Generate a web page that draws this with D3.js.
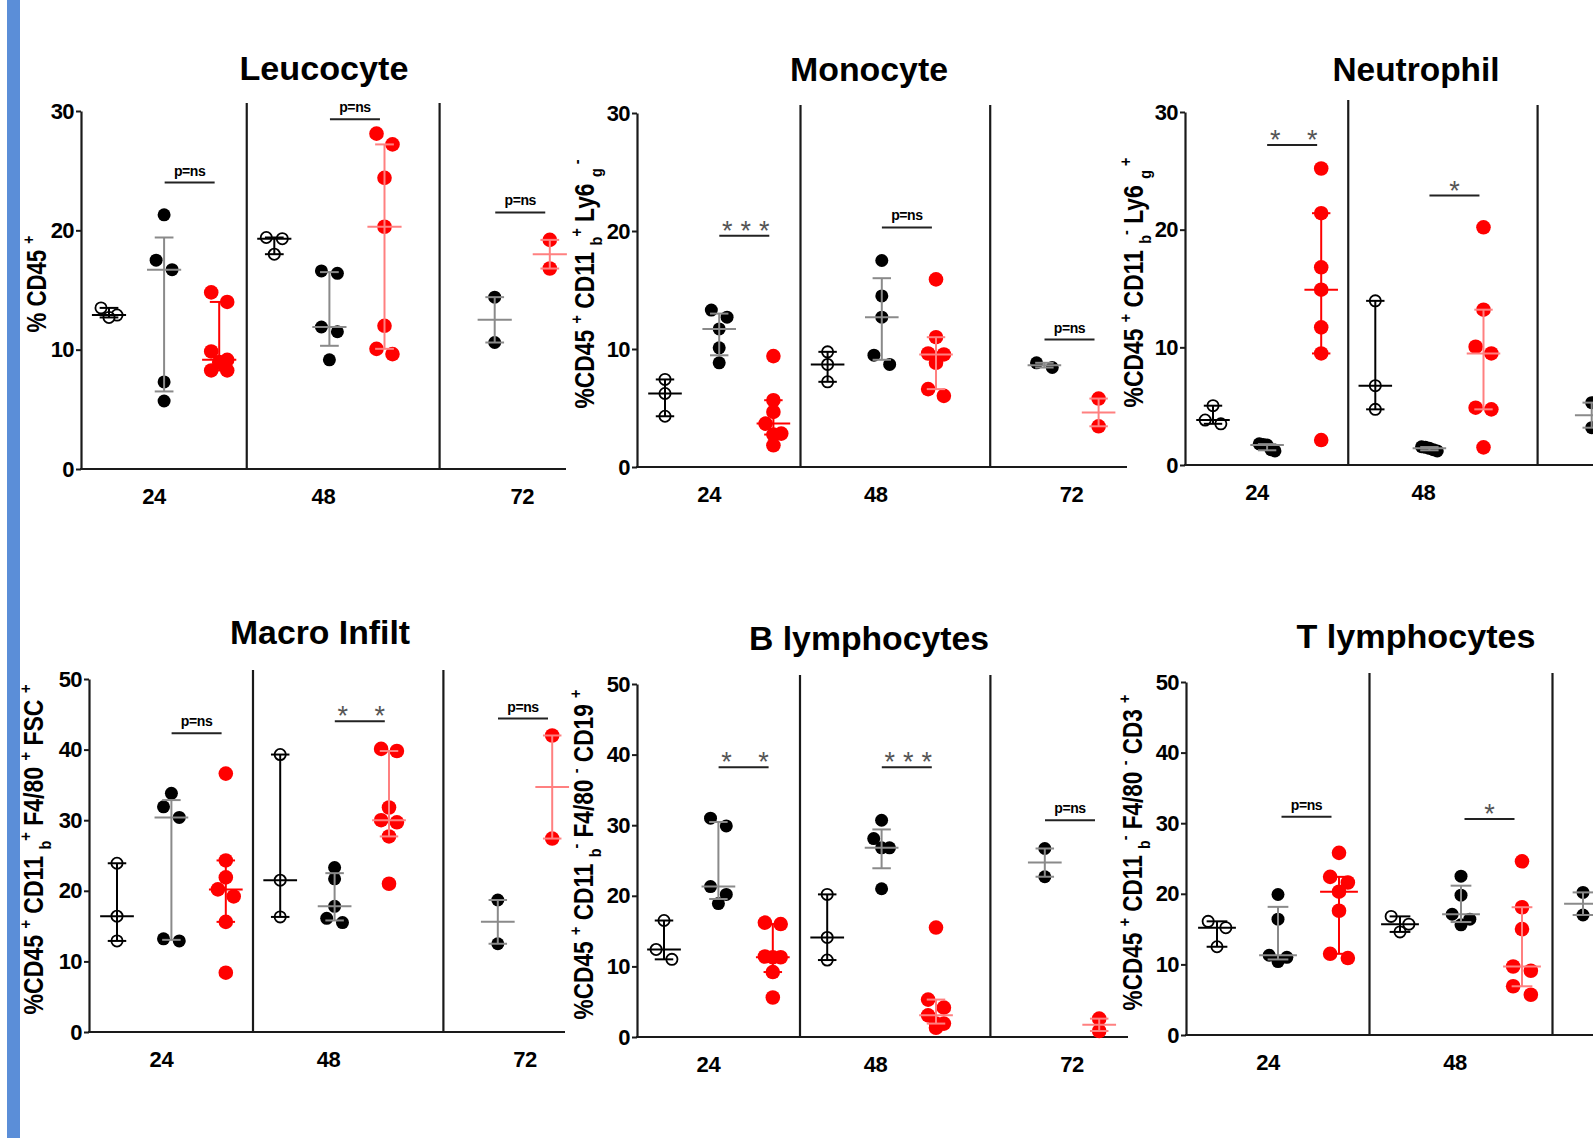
<!DOCTYPE html>
<html lang="en">
<head>
<meta charset="UTF-8" />
<title>Leucocyte subsets</title>
<script src="https://cdn.jsdelivr.net/npm/d3@7"></script>
<style>
  body { margin: 0; background: #fff; }
  text { font-family: "Liberation Sans", Arial, sans-serif; }
</style>
</head>
<body>
<svg id="container" width="1593" height="1138"></svg>
<script>
// hours after injury and the three groups drawn in each time block
const times = ["24", "48", "72"];
const groupsAtTime = [[0, 1, 2], [0, 1, 2], [1, 2]];

// [time index, group index (0 open, 1 black, 2 red), values]
const leucocyteData = [
  [0, 0, [13.5, 12.9, 12.7]],
  [0, 1, [21.3, 17.5, 16.7, 7.3, 5.7]],
  [0, 2, [14.8, 14.0, 9.85, 9.15, 8.96, 8.26, 8.26]],
  [1, 0, [19.4, 19.3, 18.0]],
  [1, 1, [16.6, 16.4, 11.9, 11.5, 9.15]],
  [1, 2, [28.1, 27.2, 24.4, 20.3, 12.0, 10.07, 9.63]],
  [2, 1, [14.4, 10.6]],
  [2, 2, [19.2, 16.8]]
];
const monocyteData = [
  [0, 0, [7.42, 6.23, 4.3]],
  [0, 1, [13.3, 12.7, 11.7, 10.1, 8.83]],
  [0, 2, [9.4, 5.66, 4.67, 3.68, 2.83, 2.75, 1.84]],
  [1, 0, [9.76, 8.69, 7.22]],
  [1, 1, [17.5, 14.5, 12.7, 9.48, 8.69]],
  [1, 2, [15.9, 11.0, 9.62, 9.54, 8.83, 6.6, 6.03]],
  [2, 1, [8.83, 8.43]],
  [2, 2, [5.8, 3.45]]
];
const neutrophilData = [
  [0, 0, [5.04, 3.82, 3.5]],
  [0, 1, [1.8, 1.75, 1.7, 1.3, 1.2]],
  [0, 2, [25.2, 21.4, 16.8, 14.9, 11.7, 9.48, 2.12]],
  [1, 0, [13.95, 6.74, 4.73]],
  [1, 1, [1.55, 1.5, 1.42, 1.3, 1.2]],
  [1, 2, [20.2, 13.2, 10.05, 9.48, 4.87, 4.73, 1.5]],
  [2, 1, [5.3, 3.17]]
];
const macroData = [
  [0, 0, [23.9, 16.4, 12.9]],
  [0, 1, [33.8, 31.9, 30.4, 13.2, 12.9]],
  [0, 2, [36.6, 24.3, 21.9, 20.2, 19.2, 15.6, 8.4]],
  [1, 0, [39.3, 21.5, 16.3]],
  [1, 1, [23.3, 21.7, 17.8, 16.1, 15.5]],
  [1, 2, [40.1, 39.8, 31.8, 30.0, 29.7, 27.7, 21.0]],
  [2, 1, [18.7, 12.5]],
  [2, 2, [42.0, 27.4]]
];
const bLymphData = [
  [0, 0, [16.5, 12.4, 11.0]],
  [0, 1, [31.0, 29.9, 21.3, 20.2, 18.9]],
  [0, 2, [16.2, 16.0, 11.4, 11.3, 11.3, 9.2, 5.6]],
  [1, 0, [20.2, 14.1, 10.9]],
  [1, 1, [30.7, 28.1, 26.8, 26.8, 21.0]],
  [1, 2, [15.5, 5.3, 4.16, 3.07, 1.9, 1.9, 1.3]],
  [2, 1, [26.7, 22.7]],
  [2, 2, [2.6, 0.85]]
];
const tLymphData = [
  [0, 0, [16.1, 15.2, 12.5]],
  [0, 1, [19.9, 16.4, 11.3, 11.0, 10.4]],
  [0, 2, [25.8, 22.4, 21.6, 20.3, 17.6, 11.5, 10.9]],
  [1, 0, [16.8, 15.7, 14.6]],
  [1, 1, [22.5, 19.8, 17.1, 16.4, 15.6]],
  [1, 2, [24.6, 18.1, 15.0, 9.7, 9.1, 6.9, 5.7]],
  [2, 1, [20.2, 17.0]]
];

// significance bars: [time index, label, bar height in axis units]
const leucocyteSig = [[0, "p=ns", 24.0], [1, "p=ns", 29.3], [2, "p=ns", 21.5]];
const monocyteSig = [[0, "***", 19.6], [1, "p=ns", 20.3], [2, "p=ns", 10.8]];
const neutrophilSig = [[0, "**", 27.2], [1, "*", 22.9]];
const macroSig = [[0, "p=ns", 42.3], [1, "**", 44.0], [2, "p=ns", 44.4]];
const bLymphSig = [[0, "**", 38.2], [1, "***", 38.2], [2, "p=ns", 30.7]];
const tLymphSig = [[0, "p=ns", 30.9], [1, "*", 30.6]];

// y axis titles: [text, "" | "sup" | "sub"]
const leucocyteLabel = [["% CD45 ", ""], ["+", "sup"]];
const monocyteLabel = [["%CD45 ", ""], ["+", "sup"], [" CD11 ", ""], ["b", "sub"], ["+", "sup"], [" Ly6 ", ""], ["g", "sub"], [" -", "sup"]];
const neutrophilLabel = [["%CD45 ", ""], ["+", "sup"], [" CD11 ", ""], ["b", "sub"], ["-", "sup"], [" Ly6 ", ""], ["g", "sub"], [" +", "sup"]];
const macroLabel = [["%CD45 ", ""], ["+", "sup"], [" CD11 ", ""], ["b", "sub"], ["+", "sup"], [" F4/80 ", ""], ["+", "sup"], [" FSC ", ""], ["+", "sup"]];
const bLymphLabel = [["%CD45 ", ""], ["+", "sup"], [" CD11 ", ""], ["b", "sub"], ["-", "sup"], [" F4/80 ", ""], ["-", "sup"], [" CD19 ", ""], ["+", "sup"]];
const tLymphLabel = [["%CD45 ", ""], ["+", "sup"], [" CD11 ", ""], ["b", "sub"], ["-", "sup"], [" F4/80 ", ""], ["-", "sup"], [" CD3 ", ""], ["+", "sup"]];

const titles = ["Leucocyte", "Monocyte", "Neutrophil", "Macro Infilt", "B lymphocytes", "T lymphocytes"];

// page layout of each panel (pixels)
const layouts = [
  { axisX: 81, xEnd: 566, y0: 469, yTop: 111, yMax: 30, slot0: 109, unit: 55.1, divTop: [103, 103], titleX: 324, titleY: 80, titleLen: 169, labelX: 46, labelLen: 97, shift72: 0 },
  { axisX: 637, xEnd: 1127, y0: 467, yTop: 113, yMax: 30, slot0: 665, unit: 54.2, divTop: [105, 105], titleX: 869, titleY: 81, titleLen: 158, labelX: 594, labelLen: 249, shift72: 0 },
  { axisX: 1185, xEnd: 1600, y0: 465, yTop: 112, yMax: 30, slot0: 1213, unit: 54.1, divTop: [100, 105], titleX: 1416, titleY: 81, titleLen: 167, labelX: 1143, labelLen: 250, shift72: 0 },
  { axisX: 89, xEnd: 565, y0: 1032, yTop: 679, yMax: 50, slot0: 117, unit: 54.4, divTop: [670, 670], titleX: 320, titleY: 644, titleLen: 180, labelX: 43, labelLen: 330, shift72: 0 },
  { axisX: 637, xEnd: 1128, y0: 1037, yTop: 684, yMax: 50, slot0: 664, unit: 54.4, divTop: [675, 675], titleX: 869, titleY: 650, titleLen: 240, labelX: 593, labelLen: 330, shift72: 0 },
  { axisX: 1186, xEnd: 1600, y0: 1035, yTop: 682, yMax: 50, slot0: 1217, unit: 61, divTop: [673, 673], titleX: 1416, titleY: 648, titleLen: 239, labelX: 1142, labelLen: 316, shift72: -1 }
];

const panelData = [leucocyteData, monocyteData, neutrophilData, macroData, bLymphData, tLymphData];
const panelSig = [leucocyteSig, monocyteSig, neutrophilSig, macroSig, bLymphSig, tLymphSig];
const panelLabel = [leucocyteLabel, monocyteLabel, neutrophilLabel, macroLabel, bLymphLabel, tLymphLabel];

const W = 1593, H = 1138;
const labelNudge = [-10, -6, 0];

const svg = d3.select("#container");
svg.append("rect").attr("width", W).attr("height", H).attr("fill", "#fff");
svg.append("rect").attr("x", 7).attr("y", 0).attr("width", 13).attr("height", H).attr("fill", "#5b8ed8");

titles.forEach((t, i) => drawPanel(t, panelData[i], panelSig[i], panelLabel[i], layouts[i]));

// GraphPad style quartiles, position (n+1)p
function quart(sorted, p) {
  const n = sorted.length;
  const pos = (n + 1) * p;
  if (pos <= 1) return sorted[0];
  if (pos >= n) return sorted[n - 1];
  const i = Math.floor(pos);
  return sorted[i - 1] + (pos - i) * (sorted[i] - sorted[i - 1]);
}

// spread points that sit at nearly the same height
function swarm(vals, y, s, binPx) {
  const pts = vals.map(v => ({ v, py: y(v) })).sort((a, b) => a.py - b.py);
  const bins = [];
  pts.forEach(p => {
    const b = bins[bins.length - 1];
    if (b && p.py - b[0].py < binPx) b.push(p);
    else bins.push([p]);
  });
  bins.forEach(b => {
    const n = b.length;
    const offs = n === 1 ? [0] : n === 3 ? [-s, s, 0] : b.map((_, i) => -s + 2 * s * i / (n - 1));
    b.forEach((p, i) => (p.dx = offs[i]));
  });
  return pts;
}

function drawPanel(title, data, sig, label, L) {
  const g = svg.append("g");
  const y = d3.scaleLinear().domain([0, L.yMax]).range([L.y0, L.yTop]);
  const x = d3.scaleLinear().domain([0, 1]).range([L.slot0, L.slot0 + L.unit]);
  const slotOf = (t, k) => 3 * t + k + (t === 2 ? L.shift72 : 0);

  // title
  g.append("text")
    .attr("x", L.titleX).attr("y", L.titleY)
    .attr("text-anchor", "middle")
    .attr("font-size", 34).attr("font-weight", "bold")
    .attr("textLength", L.titleLen).attr("lengthAdjust", "spacingAndGlyphs")
    .text(title);

  // y axis
  const yAxis = d3.axisLeft(y).tickValues(d3.range(0, L.yMax + 1, 10))
    .tickSize(5).tickSizeOuter(0).tickPadding(2);
  const ax = g.append("g").attr("transform", `translate(${L.axisX},0)`).call(yAxis);
  ax.select(".domain").attr("stroke", "#1a1a1a").attr("stroke-width", 2.2);
  ax.selectAll(".tick line").attr("stroke", "#1a1a1a").attr("stroke-width", 2);
  ax.selectAll(".tick text")
    .attr("font-family", "'Liberation Sans', Arial, sans-serif")
    .attr("font-size", 22).attr("font-weight", "bold").attr("fill", "#000")
    .attr("letter-spacing", -0.6);

  // x axis line
  g.append("line")
    .attr("x1", L.axisX - 1).attr("x2", L.xEnd)
    .attr("y1", L.y0).attr("y2", L.y0)
    .attr("stroke", "#1a1a1a").attr("stroke-width", 2.2);

  // block dividers and time labels
  times.forEach((t, ti) => {
    const slots = groupsAtTime[ti].map(k => slotOf(ti, k));
    const lx = x(d3.mean(slots)) + labelNudge[ti];
    if (lx + 14 < W) {
      g.append("text")
        .attr("x", lx).attr("y", L.y0 + 35)
        .attr("text-anchor", "middle")
        .attr("font-size", 22).attr("font-weight", "bold")
        .attr("letter-spacing", -0.4)
        .text(t);
    }
    if (ti > 0) {
      const prev = groupsAtTime[ti - 1].map(k => slotOf(ti - 1, k));
      const xd = x((d3.max(prev) + d3.min(slots)) / 2);
      g.append("line")
        .attr("x1", xd).attr("x2", xd)
        .attr("y1", L.y0).attr("y2", L.divTop[ti - 1])
        .attr("stroke", "#1a1a1a").attr("stroke-width", 2.2);
    }
  });

  // y axis title with sub/superscripts
  const cy = (L.y0 + L.yTop) / 2 - 6;
  const lab = g.append("text")
    .attr("text-anchor", "middle")
    .attr("xml:space", "preserve")
    .style("white-space", "pre")
    .attr("font-size", 27).attr("font-weight", "bold");
  let cur = 0;
  label.forEach(([txt, kind]) => {
    const target = kind === "sup" ? -12 : kind === "sub" ? 8 : 0;
    lab.append("tspan")
      .attr("dy", target - cur)
      .attr("font-size", kind ? 17 : 27)
      .text(txt);
    cur = target;
  });
  const k = L.labelLen / lab.node().getComputedTextLength();
  lab.attr("transform", `translate(${L.labelX},${cy}) rotate(-90) scale(${k},1)`);

  // points and median / interquartile range
  const s = 0.145 * L.unit;
  const medHalf = 0.31 * L.unit;
  const capHalf = 0.17 * L.unit;
  data.forEach(([ti, gi, vals]) => {
    const cx = x(slotOf(ti, gi));
    const pts = swarm(vals, y, s, 11);
    const dots = g.append("g");
    pts.forEach(p => {
      const c = dots.append("circle").attr("cx", cx + p.dx).attr("cy", p.py);
      if (gi === 0) c.attr("r", 5.6).attr("fill", "#fff").attr("stroke", "#000").attr("stroke-width", 1.8);
      else if (gi === 1) c.attr("r", 6.5).attr("fill", "#000");
      else c.attr("r", 7.3).attr("fill", "#ff0000");
    });

    const sorted = vals.slice().sort(d3.ascending);
    const med = d3.median(sorted);
    const q1 = quart(sorted, 0.25);
    const q3 = quart(sorted, 0.75);
    const col = gi === 0 ? "#000" : gi === 1 ? "#8a8a8a" : (ti === 0 ? "#ff0000" : "#ff8080");
    const bars = g.append("g").attr("stroke", col).attr("stroke-width", 2);
    bars.append("line").attr("x1", cx).attr("x2", cx).attr("y1", y(q1)).attr("y2", y(q3));
    bars.append("line").attr("x1", cx - capHalf).attr("x2", cx + capHalf).attr("y1", y(q1)).attr("y2", y(q1));
    bars.append("line").attr("x1", cx - capHalf).attr("x2", cx + capHalf).attr("y1", y(q3)).attr("y2", y(q3));
    bars.append("line").attr("x1", cx - medHalf).attr("x2", cx + medHalf).attr("y1", y(med)).attr("y2", y(med));
  });

  // significance annotations
  sig.forEach(([ti, txt, v]) => {
    const mid = (x(slotOf(ti, 1)) + x(slotOf(ti, 2))) / 2 - 2;
    const xa = mid - 25;
    const xb = mid + 25;
    const yy = y(v);
    g.append("line")
      .attr("x1", xa).attr("x2", xb).attr("y1", yy).attr("y2", yy)
      .attr("stroke", "#222").attr("stroke-width", 2);
    if (txt === "p=ns") {
      g.append("text")
        .attr("x", mid).attr("y", yy - 7)
        .attr("text-anchor", "middle")
        .attr("font-size", 14).attr("font-weight", "bold")
        .attr("letter-spacing", -0.4)
        .text(txt);
    } else {
      const n = txt.length;
      const xs = n === 1 ? [mid] : d3.range(n).map(i => xa + 8 + (xb - 13 - xa) * i / (n - 1));
      xs.forEach(xx => {
        g.append("text")
          .attr("x", xx).attr("y", yy + 4)
          .attr("text-anchor", "middle")
          .attr("font-family", "'DejaVu Sans', sans-serif")
          .attr("font-size", 27).attr("fill", "#555")
          .text("*");
      });
    }
  });
}
</script>
</body>
</html>
